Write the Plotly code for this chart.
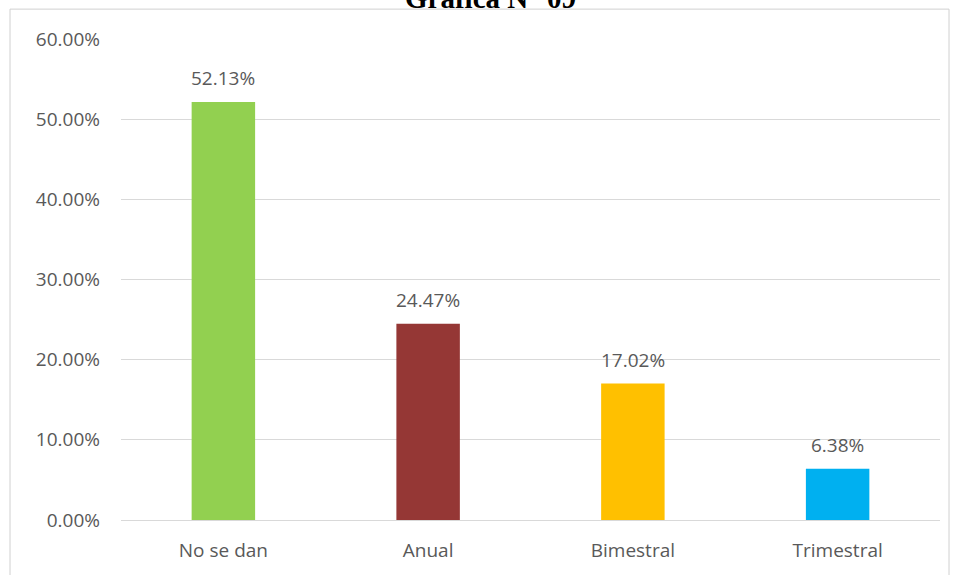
import plotly.graph_objects as go

categories = ["No se dan", "Anual", "Bimestral", "Trimestral"]
values = [52.13, 24.47, 17.02, 6.38]
bar_colors = ["#92d050", "#953735", "#ffc000", "#00b0f0"]
tick_vals = [0, 10, 20, 30, 40, 50, 60]
tick_text = ["0.00%", "10.00%", "20.00%", "30.00%", "40.00%", "50.00%", "60.00%"]

W, H = 955, 575
L, R, T, B = 121, 15, 39, 53
plot_h = H - T - B
plot_w = W - L - R

LABEL_FONT = dict(family="Open Sans", size=19, color="#595959")

fig = go.Figure(
    go.Bar(
        x=categories,
        y=values,
        marker=dict(color=bar_colors, line=dict(width=0)),
        width=0.31,
        hoverinfo="x+y",
    )
)

# value labels above each bar
value_labels = [
    dict(
        x=c,
        y=v,
        xref="x",
        yref="y",
        text=f"{v:.2f}%",
        showarrow=False,
        xanchor="center",
        yanchor="middle",
        yshift=24,
        font=LABEL_FONT,
    )
    for c, v in zip(categories, values)
]

title = dict(
    text="<b>Gráfica N° 09</b>",
    x=(490 - L) / plot_w,
    y=1 + (T + 2) / plot_h,
    xref="paper",
    yref="paper",
    xanchor="center",
    yanchor="middle",
    showarrow=False,
    font=dict(family="Liberation Serif", size=29, color="black"),
)

fig.update_layout(
    width=W,
    height=H,
    margin=dict(l=L, r=R, t=T, b=B),
    paper_bgcolor="white",
    plot_bgcolor="white",
    showlegend=False,
    font=LABEL_FONT,
    xaxis=dict(
        showgrid=False,
        showline=False,
        ticks="",
        ticklabelstandoff=17,
        tickfont=LABEL_FONT,
    ),
    yaxis=dict(
        range=[0, 60],
        tickvals=tick_vals,
        ticktext=tick_text,
        showgrid=True,
        gridcolor="#d9d9d9",
        gridwidth=1,
        zeroline=True,
        zerolinecolor="#d9d9d9",
        zerolinewidth=1,
        showline=False,
        ticks="",
        ticklabelstandoff=20,
        tickfont=LABEL_FONT,
    ),
    shapes=[
        dict(
            type="rect",
            xref="paper",
            yref="paper",
            x0=(10 - L) / plot_w,
            x1=(949 - L) / plot_w,
            y0=-(B + 5) / plot_h,
            y1=1 + (T - 9) / plot_h,
            line=dict(color="#d0d0d0", width=1),
            fillcolor="rgba(0,0,0,0)",
            layer="below",
        )
    ],
    annotations=value_labels + [title],
)

fig.write_html("out.html")
